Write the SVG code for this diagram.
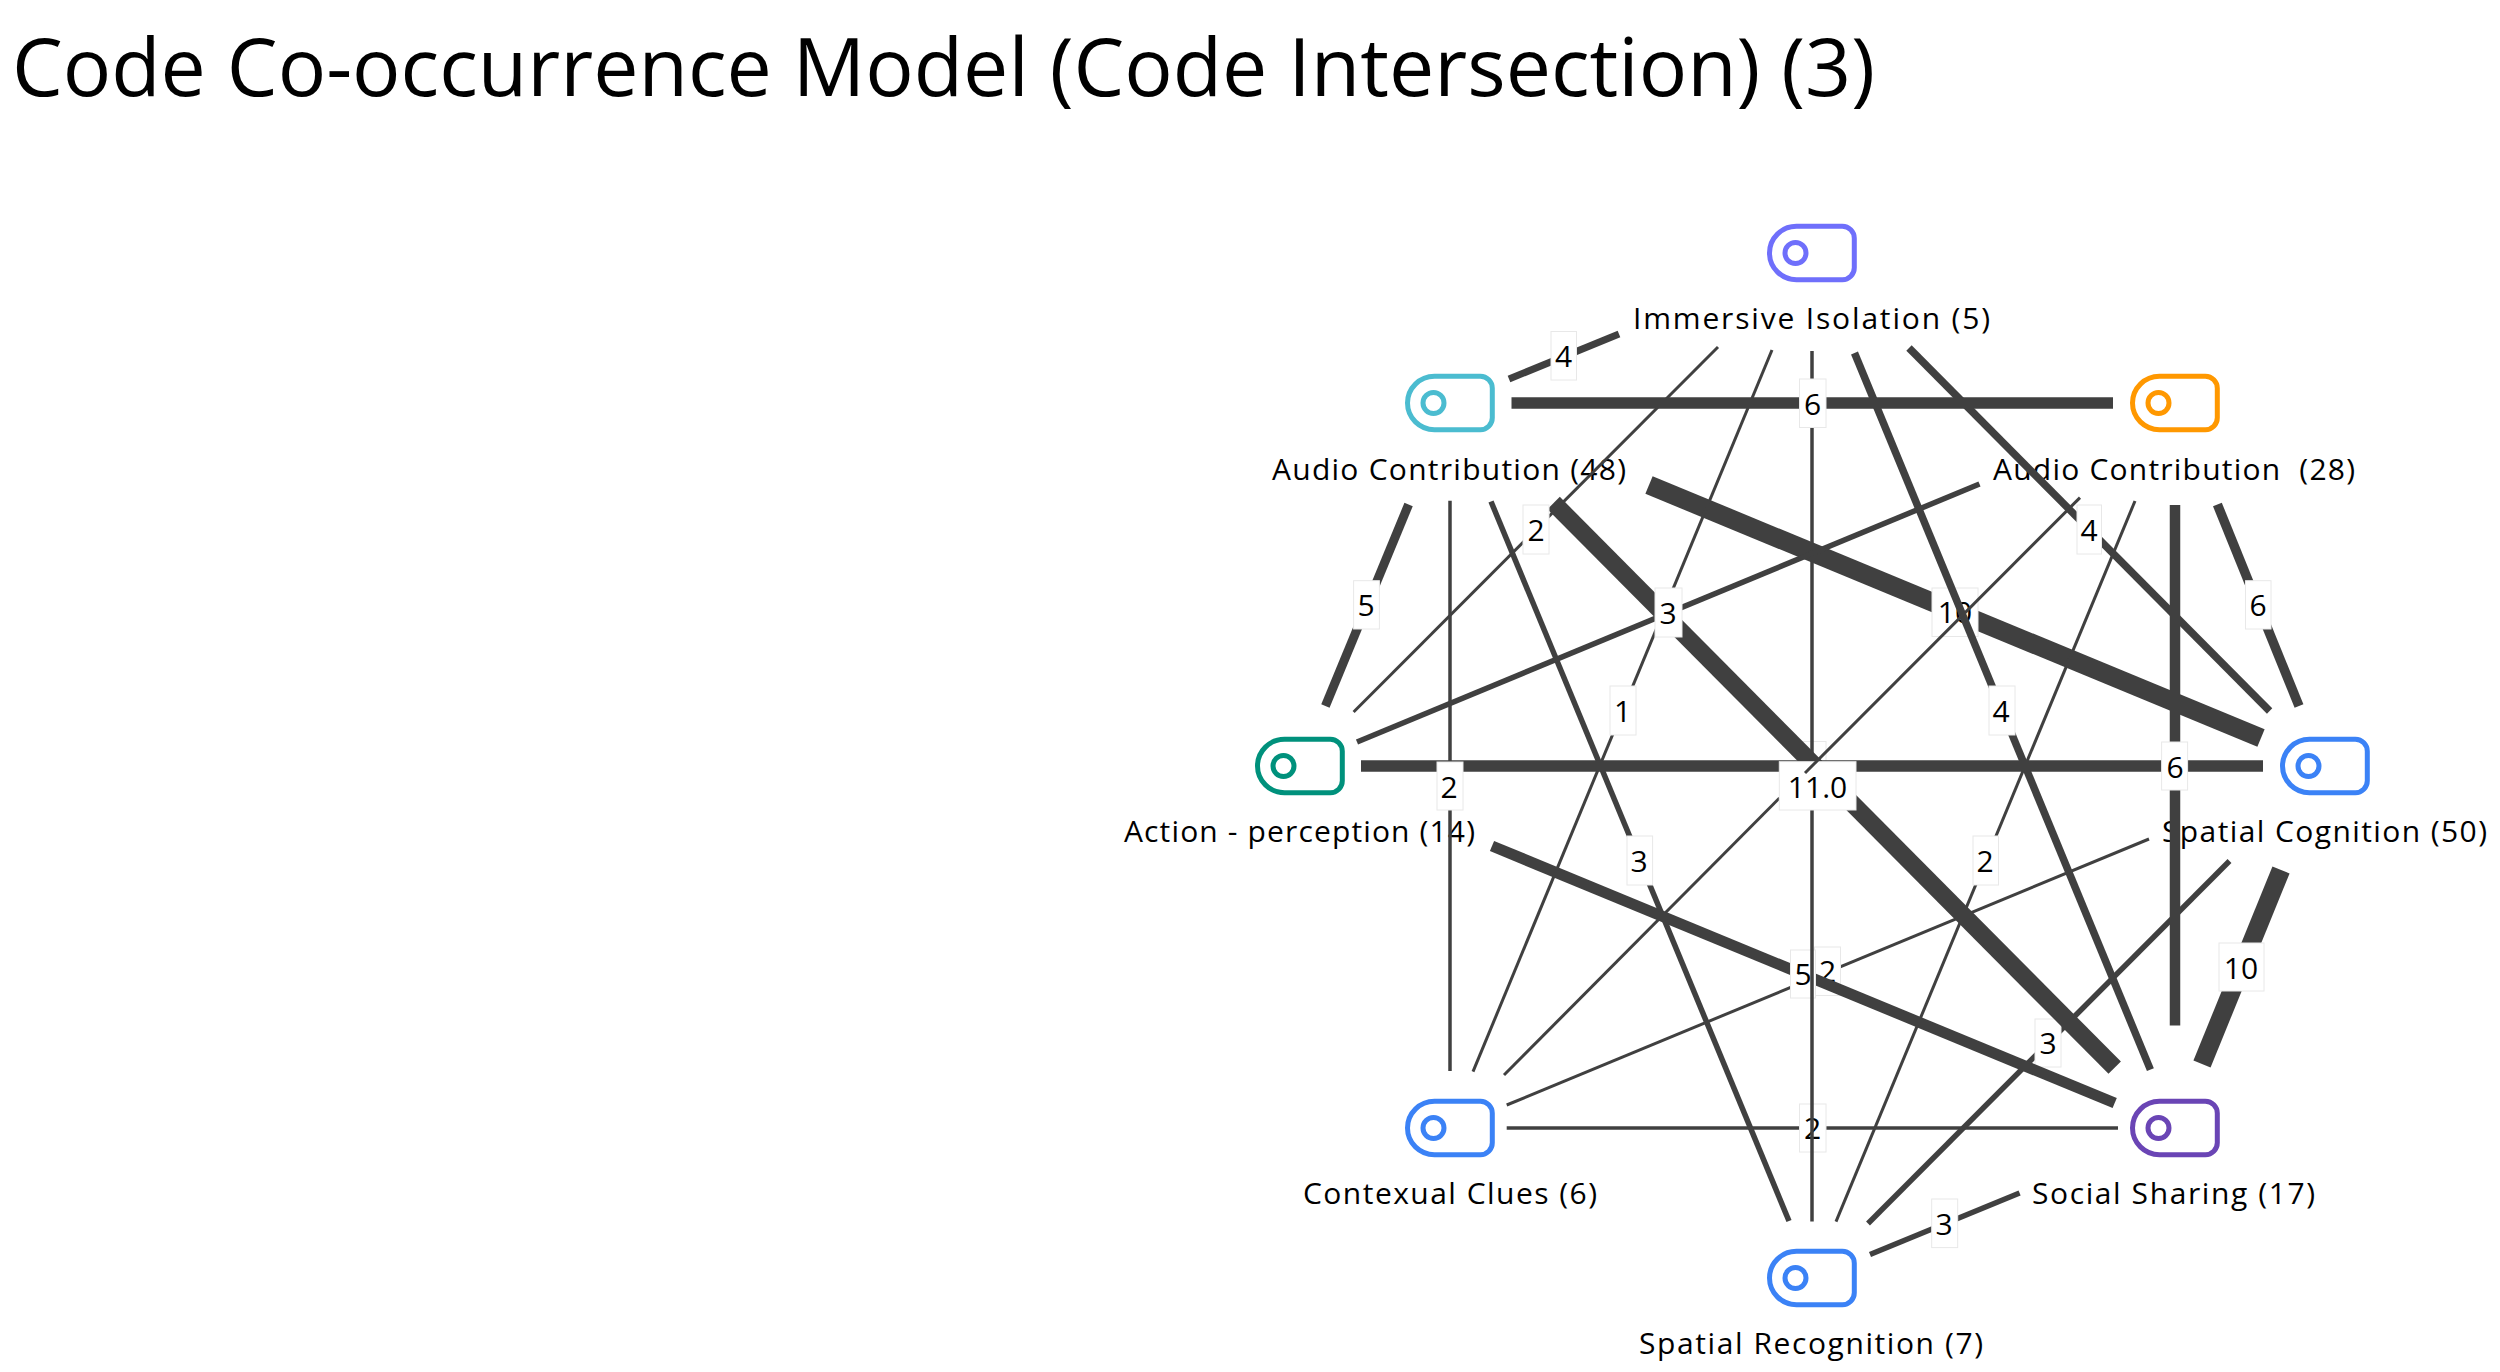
<svg xmlns="http://www.w3.org/2000/svg" xmlns:xlink="http://www.w3.org/1999/xlink" width="2500" height="1372" viewBox="0 0 2500 1372">
<style>
text{font-family:"Open Sans","Noto Sans","Liberation Sans",sans-serif;fill:#000}
.title{font-size:80px}
.nl{font-size:30px}
.el{font-size:30px;text-anchor:middle}
.box{fill:#fff;stroke:#e8e8e8;stroke-width:1}
.icon{fill:none;stroke-width:5}
#connectors line{stroke:#404040;stroke-linecap:butt}
</style>
<defs>
<g id="icon"><path d="M-15.5-26.7H30.3a12 12 0 0 1 12 12V14.7a12 12 0 0 1-12 12H-15.5a27 26.7 0 0 1 0-53.4Z"/><circle cx="-16.5" cy="0" r="10.5"/></g>
</defs>
<rect width="2500" height="1372" fill="#fff"/>
<text class="title" x="12" y="96" textLength="1863" lengthAdjust="spacingAndGlyphs">Code Co-occurrence Model (Code Intersection) (3)</text>
<g id="node-immersive-isolation"><use href="#icon" x="1812" y="253" class="icon" stroke="#6f6ffb"/><text class="nl" x="1633" y="329" textLength="357">Immersive Isolation (5)</text></g>
<g id="node-audio-contribution-48"><use href="#icon" x="1450" y="403" class="icon" stroke="#4bbcd0"/><text class="nl" x="1272" y="480" textLength="354">Audio Contribution (48)</text></g>
<g id="node-audio-contribution-28"><use href="#icon" x="2175" y="403" class="icon" stroke="#ff9800"/><text class="nl" x="1993" y="480" textLength="362" xml:space="preserve">Audio Contribution  (28)</text></g>
<g id="node-action-perception"><use href="#icon" x="1300" y="766" class="icon" stroke="#00917c"/><text class="nl" x="1124" y="842" textLength="351">Action - perception (14)</text></g>
<g id="node-spatial-cognition"><use href="#icon" x="2325" y="766" class="icon" stroke="#3b82f6"/><text class="nl" x="2162" y="842" textLength="325">Spatial Cognition (50)</text></g>
<g id="node-contexual-clues"><use href="#icon" x="1450" y="1128" class="icon" stroke="#3b82f6"/><text class="nl" x="1303" y="1204" textLength="294">Contexual Clues (6)</text></g>
<g id="node-social-sharing"><use href="#icon" x="2175" y="1128" class="icon" stroke="#6a45b5"/><text class="nl" x="2032" y="1204" textLength="283">Social Sharing (17)</text></g>
<g id="node-spatial-recognition"><use href="#icon" x="1812" y="1278" class="icon" stroke="#3b82f6"/><text class="nl" x="1639" y="1354" textLength="344">Spatial Recognition (7)</text></g>
<g id="connectors">
<rect class="box" x="1800" y="741.5" width="26" height="48.5"/>
<line x1="1506.7" y1="1128" x2="2118" y2="1128" stroke-width="3.5"/>
<rect class="box" x="1799.5" y="1104" width="26.5" height="48"/><text class="el" x="1812.5" y="1139">2</text>
<line x1="1506.7" y1="1105" x2="2149" y2="839" stroke-width="3"/>
<rect class="box" x="1814.5" y="947" width="26" height="48.5"/><text class="el" x="1827.5" y="982">2</text>
<line x1="2229.5" y1="861" x2="1868" y2="1223.5" stroke-width="5.5"/>
<rect class="box" x="2035" y="1019" width="26" height="48"/><text class="el" x="2048" y="1054">3</text>
<line x1="1649" y1="485" x2="2261" y2="738" stroke-width="19"/>
<rect class="box" x="1932" y="588" width="46" height="48.5"/><text class="el" x="1955" y="623">10</text>
<line x1="1492" y1="846" x2="2114.7" y2="1103" stroke-width="11"/>
<rect class="box" x="1790.5" y="950" width="25" height="48"/><text class="el" x="1803" y="985">5</text>
<line x1="1812" y1="351" x2="1812" y2="1221.6" stroke-width="3.5"/>
<line x1="1718" y1="347" x2="1353.6" y2="712" stroke-width="3"/>
<line x1="1491" y1="501.5" x2="1789" y2="1221" stroke-width="5.5"/>
<line x1="1408.6" y1="504.5" x2="1325.4" y2="706" stroke-width="9"/>
<line x1="1450" y1="500.7" x2="1450" y2="1071" stroke-width="3.5"/>
<line x1="1772" y1="350" x2="1473" y2="1071.6" stroke-width="3"/>
<line x1="1509" y1="379" x2="1619" y2="334" stroke-width="7"/>
<line x1="1854.5" y1="353" x2="2150.4" y2="1069.6" stroke-width="7.5"/>
<line x1="1909" y1="348" x2="2269.6" y2="711" stroke-width="7.5"/>
<line x1="1357" y1="742" x2="1979.5" y2="484" stroke-width="5.5"/>
<line x1="2135" y1="501" x2="1836" y2="1221.6" stroke-width="3"/>
<line x1="2175" y1="505" x2="2175" y2="1025.6" stroke-width="10.5"/>
<line x1="2217.4" y1="504.5" x2="2299" y2="706" stroke-width="9.5"/>
<line x1="1361" y1="766" x2="2263" y2="766" stroke-width="11.5"/>
<line x1="2281" y1="870" x2="2202" y2="1064" stroke-width="18.5"/>
<line x1="2019.6" y1="1193" x2="1870" y2="1254.5" stroke-width="5.5"/>
<line x1="1511.5" y1="403" x2="2113" y2="403" stroke-width="11.5"/>
<line x1="1553.6" y1="503" x2="2114.7" y2="1067.7" stroke-width="17.5"/>
<rect class="box" x="1551" y="331.5" width="25.5" height="48.5"/><text class="el" x="1563.5" y="367">4</text>
<rect class="box" x="1799.5" y="379" width="26.5" height="48.5"/><text class="el" x="1812.5" y="415">6</text>
<rect class="box" x="1523" y="505" width="26" height="49"/><text class="el" x="1536" y="541">2</text>
<rect class="box" x="2077" y="505" width="24.5" height="49"/><text class="el" x="2089" y="541">4</text>
<rect class="box" x="1353.6" y="580.7" width="25.8" height="48.3"/><text class="el" x="1366" y="616">5</text>
<rect class="box" x="2245.5" y="580.7" width="25.5" height="48.3"/><text class="el" x="2258" y="616">6</text>
<rect class="box" x="1655" y="588" width="27" height="49"/><text class="el" x="1668" y="624">3</text>
<rect class="box" x="1610" y="686" width="26" height="49"/><text class="el" x="1622.5" y="722">1</text>
<rect class="box" x="1989" y="686" width="26" height="49"/><text class="el" x="2001" y="722">4</text>
<rect class="box" x="2161.6" y="742" width="26" height="48"/><text class="el" x="2175" y="778">6</text>
<rect class="box" x="1437" y="762" width="26" height="48"/><text class="el" x="1449" y="798">2</text>
<rect class="box" x="1627" y="836" width="25.6" height="49"/><text class="el" x="1639" y="872">3</text>
<rect class="box" x="1973" y="836" width="25.5" height="49"/><text class="el" x="1985" y="872">2</text>
<rect class="box" x="2219" y="943" width="45" height="48"/><text class="el" x="2241" y="979">10</text>
<rect class="box" x="1931.7" y="1199" width="26" height="48.6"/><text class="el" x="1944" y="1235">3</text>
<line x1="1504" y1="1075" x2="1779.5" y2="798" stroke-width="3"/>
<rect class="box" x="1779.3" y="761.7" width="76.7" height="48.3"/><text class="el" x="1817.5" y="798">11.0</text>
<line x1="2080" y1="497.6" x2="1805" y2="773" stroke-width="3"/>
</g>
</svg>
